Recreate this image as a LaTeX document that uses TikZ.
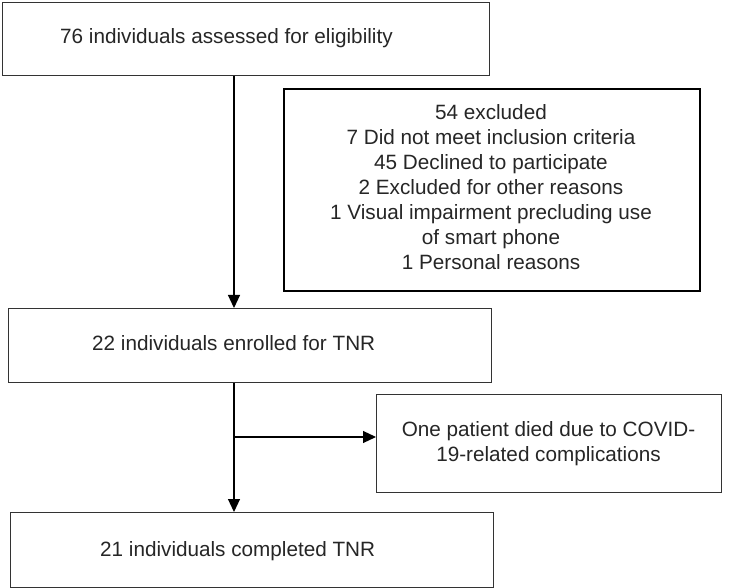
\documentclass[tikz,border=0pt]{standalone}
\usepackage{fontspec}
\setmainfont{Liberation Sans}
\usetikzlibrary{arrows.meta}
\begin{document}
\begin{tikzpicture}[x=1pt,y=-1pt,
  box/.style={draw=black!80, line width=1.1pt, inner sep=0pt, anchor=north west},
  thickbox/.style={box, draw=black, line width=2pt},
  lbl/.style={font=\fontsize{20.7}{25}\selectfont, inner sep=0pt, text=black!85},
  arr/.style={line width=1.2pt, -{Triangle[length=13pt,width=12pt]}}]
\useasboundingbox[fill=white] (0,0) rectangle (732,588);
\node[box, minimum width=487pt, minimum height=73pt] (b1) at (2,2) {};
\node[thickbox, minimum width=416pt, minimum height=202pt] (b2) at (283,88) {};
\node[box, minimum width=483pt, minimum height=74pt] (b3) at (8,308) {};
\node[box, minimum width=345pt, minimum height=98pt] (b4) at (376,394) {};
\node[box, minimum width=483pt, minimum height=75pt] (b5) at (10,512) {};

\node[lbl, anchor=base west] (t1) at (60,44) {76 individuals assessed for eligibility};
\node[lbl, align=center] (t2) at (491,187) {54 excluded\\7 Did not meet inclusion criteria\\45 Declined to participate\\2 Excluded for other reasons\\1 Visual impairment precluding use\\of smart phone\\1 Personal reasons};
\node[lbl, anchor=base west] (t3) at (92,351) {22 individuals enrolled for TNR};
\node[lbl, align=center] (t4) at (548.5,444) {One patient died due to COVID-\\19-related complications};
\node[lbl, anchor=base west] (t5) at (100,556) {21 individuals completed TNR};

\coordinate (ax) at (234,0);
\coordinate (bj) at (234,437);
\draw[arr] (b1.south -| ax) -- (b3.north -| ax);
\draw[arr] (b3.south -| ax) -- (b5.north -| ax);
\draw[arr] (bj) -- (bj -| b4.west);
\end{tikzpicture}
\end{document}
